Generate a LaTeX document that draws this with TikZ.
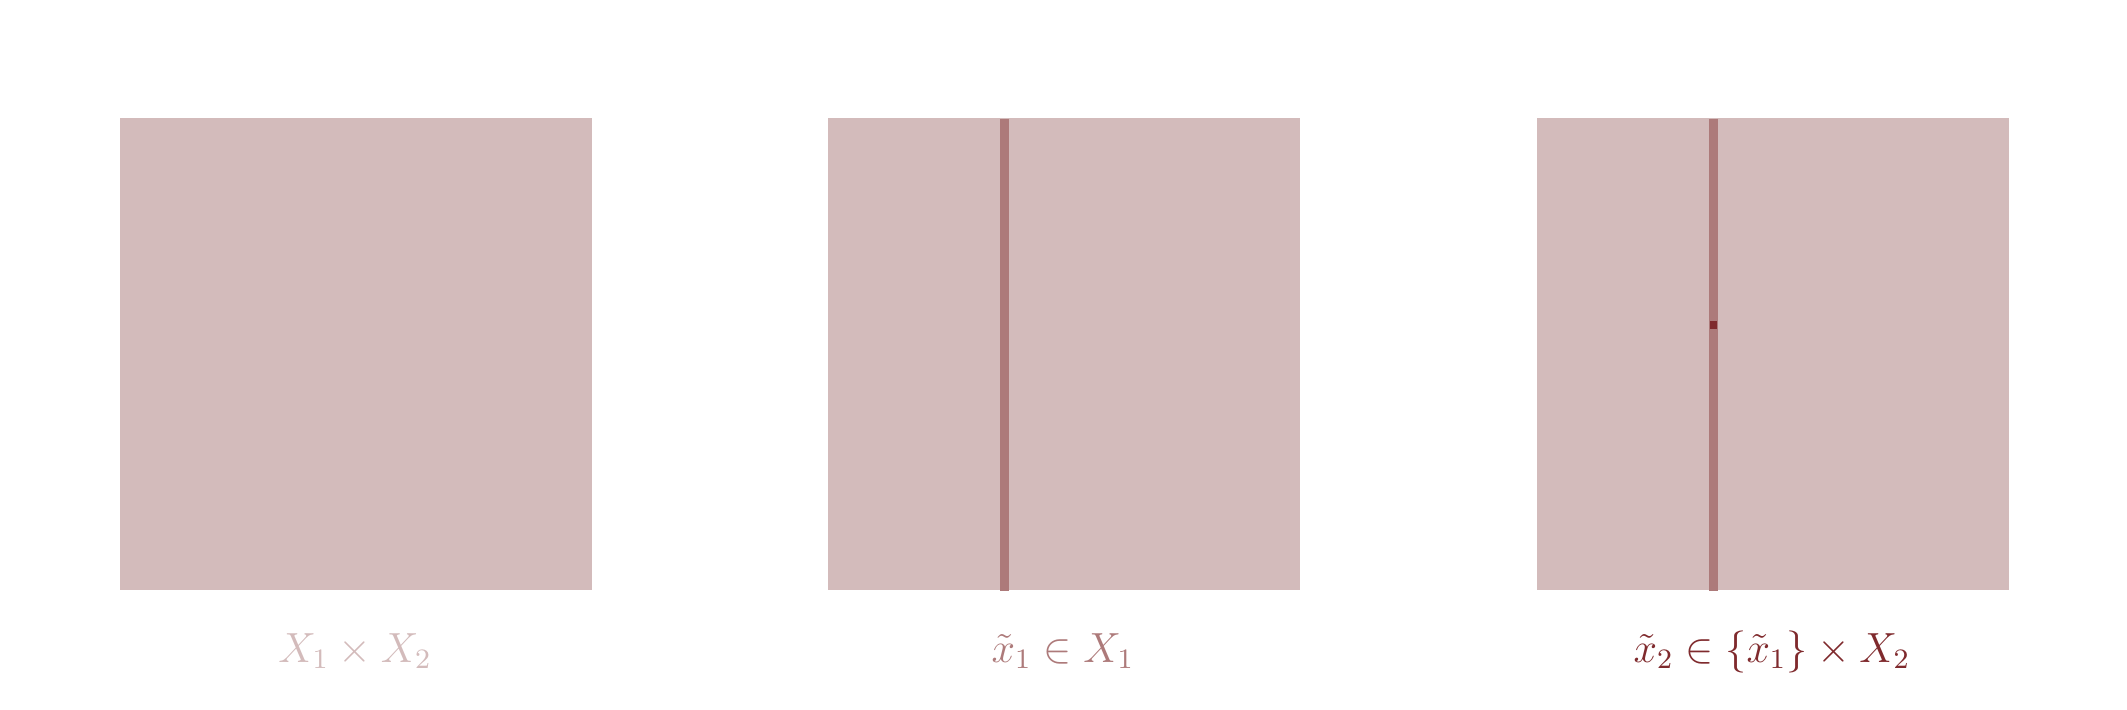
\documentclass[tikz,border=0pt]{standalone}
\usepackage{xcolor}
\usepackage{tikz}
\usetikzlibrary{positioning}
\definecolor{panelred}{HTML}{D3BBBB}
\definecolor{fiberred}{HTML}{AD7A7A}
\definecolor{pointred}{HTML}{7F2A2D}

\begin{document}
\begin{tikzpicture}[
  font=\large,
  panel/.style={fill=panelred, draw=none, minimum size=4.72cm, inner sep=0pt, anchor=south west},
  fiber/.style={draw=fiberred, line width=0.085cm},
  pick/.style={fill=pointred, draw=none, minimum size=0.075cm, inner sep=0pt},
  caption/.style={anchor=base, inner sep=0pt}
]
\useasboundingbox (0,0) rectangle (21.27,7.10);

% three panels
\node[panel] (prod) at (1.19,1.19)  {};
\node[panel] (sec)  at (8.27,1.19)  {};
\node[panel] (pt)   at (15.36,1.19) {};

% fibers through the panels
\coordinate (sectop) at (10.047,5.91);
\coordinate (secbot) at (10.047,1.19);
\coordinate (pttop)  at (17.133,5.91);
\coordinate (ptbot)  at (17.133,1.19);
\draw[fiber] (sectop) -- (secbot);
\draw[fiber] (pttop) -- (ptbot);

% chosen point
\node[pick] (xtwo) at (17.133,3.85) {};

% captions
\node[caption, text=panelred] (capprod) at (3.55,0.48)  {$X_1\times X_2$};
\node[caption, text=fiberred] (capsec)  at (10.63,0.48) {$\tilde{x}_1\in X_1$};
\node[caption, text=pointred] (cappt)   at (17.72,0.48) {$\tilde{x}_2\in\{\tilde{x}_1\}\times X_2$};
\end{tikzpicture}
\end{document}
